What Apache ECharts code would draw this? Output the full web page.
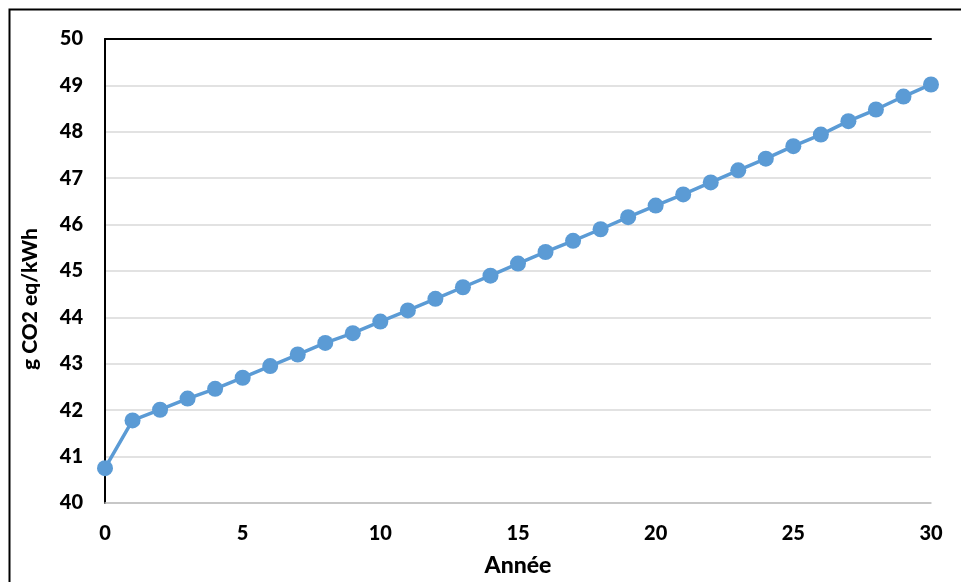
<!DOCTYPE html>
<html>
<head>
<meta charset="utf-8">
<script src="https://cdn.jsdelivr.net/npm/echarts@6/dist/echarts.min.js"></script>
<style>
html,body{margin:0;padding:0;background:#fff;}
#chart{width:961px;height:582px;}
</style>
</head>
<body>
<div id="chart"></div>
<script>
const years = [0,1,2,3,4,5,6,7,8,9,10,11,12,13,14,15,16,17,18,19,20,21,22,23,24,25,26,27,28,29,30];
const emissions = [40.75,41.78,42.01,42.25,42.46,42.70,42.95,43.20,43.45,43.66,43.91,44.15,44.40,44.65,44.90,45.16,45.41,45.65,45.90,46.16,46.41,46.65,46.91,47.17,47.42,47.69,47.94,48.23,48.48,48.76,49.02];
const xTitle = 'Année';
const yTitle = 'g CO2 eq/kWh';

const chart = echarts.init(document.getElementById('chart'));
const font = 'Lato, "Liberation Sans", sans-serif';
chart.setOption({
  animation: false,
  backgroundColor: '#fff',
  graphic: [{
    type: 'rect',
    shape: {x: 9.5, y: 9.5, width: 1000, height: 1000},
    style: {fill: 'none', stroke: '#000', lineWidth: 2}
  }],
  grid: {left: 105, right: 30, top: 39, bottom: 76},
  xAxis: [{
    type: 'value', min: 0, max: 30, interval: 5,
    name: xTitle, nameLocation: 'middle', nameGap: 51,
    nameTextStyle: {fontFamily: font, fontWeight: 900, fontSize: 23, color: '#000'},
    axisLine: {lineStyle: {color: '#BFBFBF', width: 1.5}},
    axisTick: {show: false},
    axisLabel: {fontFamily: font, fontWeight: 900, fontSize: 20, color: '#000', margin: 21},
    splitLine: {show: false}
  }, {
    type: 'value', min: 0, max: 30, position: 'top',
    axisLine: {show: true, lineStyle: {color: '#000', width: 2}},
    axisTick: {show: false}, axisLabel: {show: false}, splitLine: {show: false}
  }],
  yAxis: [{
    type: 'value', min: 40, max: 50, interval: 1,
    name: yTitle, nameLocation: 'middle', nameGap: 64,
    nameTextStyle: {fontFamily: font, fontWeight: 900, fontSize: 21, color: '#000', padding: [0, 56, 0, 0]},
    axisLine: {show: true, lineStyle: {color: '#BFBFBF', width: 1.5}},
    axisTick: {show: false},
    axisLabel: {fontFamily: font, fontWeight: 900, fontSize: 20, color: '#000', margin: 22},
    splitLine: {lineStyle: {color: '#D9D9D9', width: 1.5}}
  }, {
    type: 'value', min: 40, max: 50, position: 'right',
    axisLine: {show: true, lineStyle: {color: '#000', width: 2}},
    axisTick: {show: false}, axisLabel: {show: false}, splitLine: {show: false}
  }],
  series: [{
    type: 'line',
    data: years.map((x, i) => [x, emissions[i]]),
    symbol: 'circle', symbolSize: 16,
    itemStyle: {color: '#5B9BD5'},
    lineStyle: {color: '#5B9BD5', width: 3.5},
    z: 5
  }]
});
</script>
</body>
</html>
